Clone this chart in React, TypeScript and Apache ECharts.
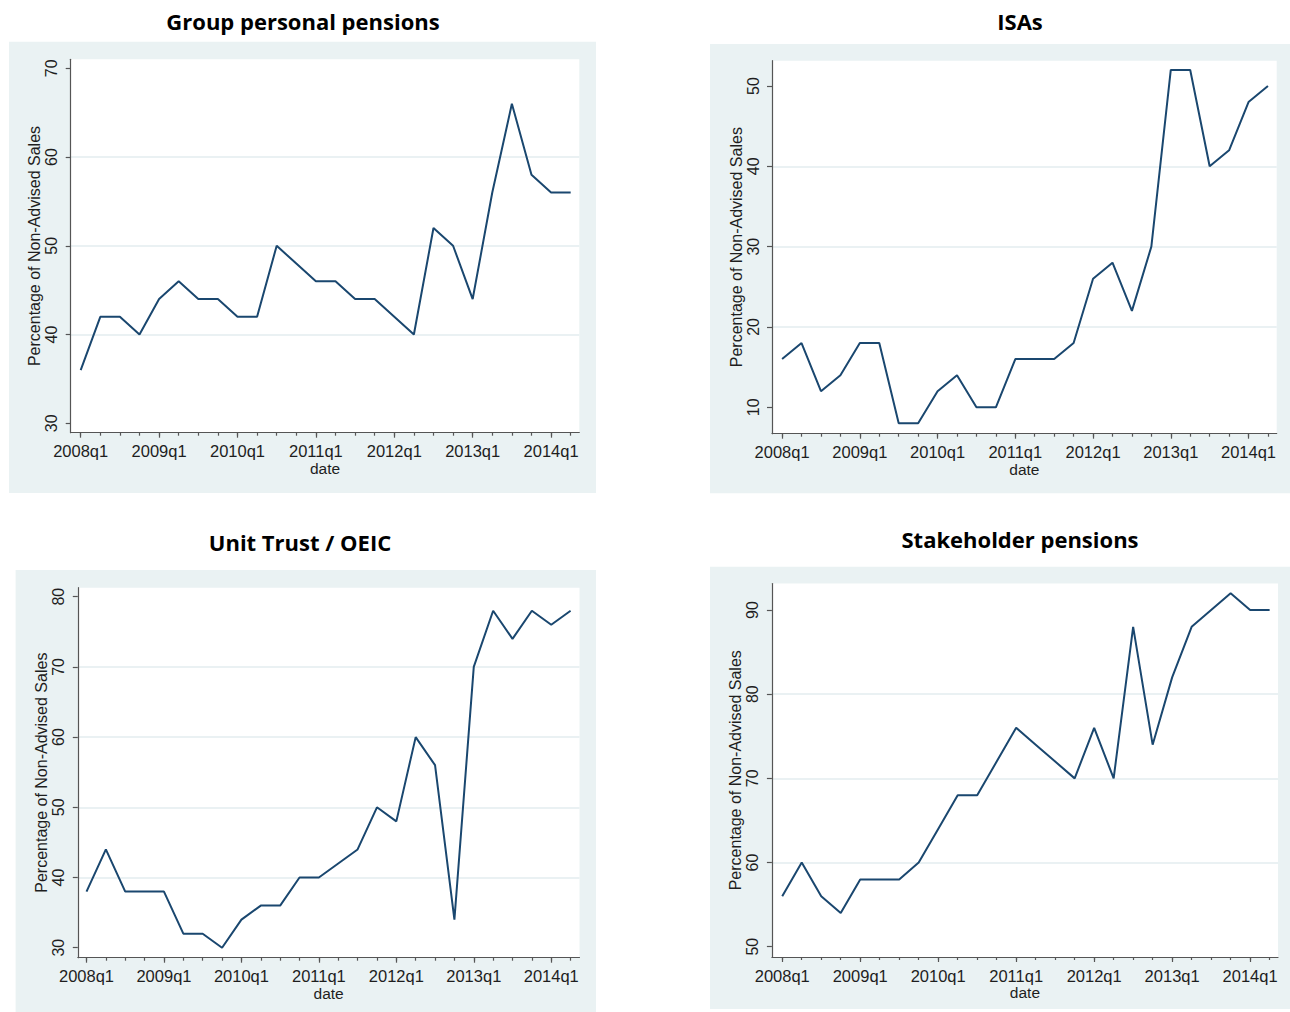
import React, { useEffect, useRef } from "react";
import * as echarts from "echarts";

// ---------- data ----------
const quarters = [
  "2008q1", "2008q2", "2008q3", "2008q4",
  "2009q1", "2009q2", "2009q3", "2009q4",
  "2010q1", "2010q2", "2010q3", "2010q4",
  "2011q1", "2011q2", "2011q3", "2011q4",
  "2012q1", "2012q2", "2012q3", "2012q4",
  "2013q1", "2013q2", "2013q3", "2013q4",
  "2014q1", "2014q2",
];

const groupPersonalPensions = [
  36, 42, 42, 40, 44, 46, 44, 44, 42, 42, 50, 48, 46, 46, 44, 44, 42, 40, 52, 50, 44, 56, 66, 58, 56, 56,
];
const isas = [
  16, 18, 12, 14, 18, 18, 8, 8, 12, 14, 10, 10, 16, 16, 16, 18, 26, 28, 22, 30, 52, 52, 40, 42, 48, 50,
];
const unitTrustOeic = [
  38, 44, 38, 38, 38, 32, 32, 30, 34, 36, 36, 40, 40, 42, 44, 50, 48, 60, 56, 34, 70, 78, 74, 78, 76, 78,
];
const stakeholderPensions = [
  56, 60, 56, 54, 58, 58, 58, 60, 64, 68, 68, 72, 76, 74, 72, 70, 76, 70, 88, 74, 82, 88, 90, 92, 90, 90,
];

const panelTitles = ["Group personal pensions", "ISAs", "Unit Trust / OEIC", "Stakeholder pensions"];
const yTicksGroup = [30, 40, 50, 60, 70];
const yTicksIsa = [10, 20, 30, 40, 50];
const yTicksUnit = [30, 40, 50, 60, 70, 80];
const yTicksStake = [50, 60, 70, 80, 90];
const yAxisTitle = "Percentage of Non-Advised Sales";
const xAxisTitle = "date";

// ---------- layout (page pixels) ----------
const panels = [
  {
    title: panelTitles[0], values: groupPersonalPensions, yTicks: yTicksGroup,
    bg: [9, 41.7, 596, 493], plot: [70.7, 59.3, 579.3, 432.7],
    yRange: [28.94, 71.01], xRange: [-0.51, 25.44], titleX: 303, titleY: 10,
  },
  {
    title: panelTitles[1], values: isas, yTicks: yTicksIsa,
    bg: [710, 44, 1290, 493.3], plot: [772, 60.7, 1276.7, 433.7],
    yRange: [6.71, 53.15], xRange: [-0.52, 25.45], titleX: 1020, titleY: 10,
  },
  {
    title: panelTitles[2], values: unitTrustOeic, yTicks: yTicksUnit,
    bg: [15.6, 570, 596, 1012], plot: [77.8, 587.7, 579.5, 957.7],
    yRange: [28.58, 81.28], xRange: [-0.45, 25.46], titleX: 300, titleY: 531,
  },
  {
    title: panelTitles[3], values: stakeholderPensions, yTicks: yTicksStake,
    bg: [710, 566.7, 1290, 1009], plot: [771.9, 583.5, 1278, 957],
    yRange: [48.78, 93.15], xRange: [-0.53, 25.43], titleX: 1020, titleY: 528,
  },
];

const PANEL_BG = "#eaf2f3";
const GRID_LINE = "#e3ecef";
const AXIS_COLOR = "#555555";
const LINE_COLOR = "#1a476f";
const LABEL_FONT = "'Liberation Sans', Arial, sans-serif";
const TITLE_FONT = "'Open Sans', Lato, sans-serif";

const allIdx = quarters.map((_, i) => i);
const yearIdx = quarters.map((q, i) => (q.endsWith("q1") ? i : -1)).filter((i) => i >= 0);

function buildOption(): any {
  const grid: any[] = [];
  const xAxis: any[] = [];
  const yAxis: any[] = [];
  const series: any[] = [];
  const title: any[] = [];
  const graphic: any[] = [];

  panels.forEach((p, k) => {
    graphic.push({
      type: "rect",
      z: -10,
      silent: true,
      shape: { x: p.bg[0], y: p.bg[1], width: p.bg[2] - p.bg[0], height: p.bg[3] - p.bg[1] },
      style: { fill: PANEL_BG },
    });
    title.push({
      text: p.title,
      left: p.titleX,
      top: p.titleY,
      textAlign: "center",
      padding: 0,
      textStyle: { fontFamily: TITLE_FONT, fontWeight: "bold", fontSize: 22, color: "#000" },
    });
    grid.push({
      left: p.plot[0],
      top: p.plot[1],
      width: p.plot[2] - p.plot[0],
      height: p.plot[3] - p.plot[1],
      show: true,
      backgroundColor: "#ffffff",
      borderWidth: 0,
      containLabel: false,
      outerBoundsMode: "none",
    });
    xAxis.push({
      type: "value",
      gridIndex: k,
      position: "bottom",
      min: p.xRange[0],
      max: p.xRange[1],
      axisLine: { show: true, onZero: false, lineStyle: { color: AXIS_COLOR, width: 1.2 } },
      axisTick: { show: true, length: 5, customValues: yearIdx, lineStyle: { color: AXIS_COLOR, width: 1.2 } },
      axisLabel: {
        customValues: yearIdx,
        formatter: (v: number) => quarters[Math.round(v)] ?? "",
        fontSize: 16.5,
        fontFamily: LABEL_FONT,
        color: "#1e1e1e",
        margin: 10,
      },
      splitLine: { show: false },
      name: xAxisTitle,
      nameLocation: "middle",
      nameGap: 27,
      nameTextStyle: { fontSize: 15.5, fontFamily: LABEL_FONT, color: "#1e1e1e" },
    });
    xAxis.push({
      type: "value",
      gridIndex: k,
      position: "bottom",
      min: p.xRange[0],
      max: p.xRange[1],
      axisLine: { show: false },
      axisTick: { show: true, length: 3, customValues: allIdx, lineStyle: { color: AXIS_COLOR, width: 1.2 } },
      axisLabel: { show: false },
      splitLine: { show: false },
    });
    yAxis.push({
      type: "value",
      gridIndex: k,
      position: "left",
      min: p.yRange[0],
      max: p.yRange[1],
      axisLine: { show: true, onZero: false, lineStyle: { color: AXIS_COLOR, width: 1.2 } },
      axisTick: { show: true, length: 5, customValues: p.yTicks, lineStyle: { color: AXIS_COLOR, width: 1.2 } },
      axisLabel: {
        customValues: p.yTicks,
        rotate: 90,
        margin: 11,
        fontSize: 16,
        fontFamily: LABEL_FONT,
        color: "#1e1e1e",
      },
      splitLine: {
        show: true,
        showMinLine: false,
        showMaxLine: false,
        lineStyle: { color: GRID_LINE, width: 1.6 },
      },
      name: yAxisTitle,
      nameLocation: "middle",
      nameRotate: 90,
      nameGap: 28,
      nameTextStyle: { fontSize: 16, fontFamily: LABEL_FONT, color: "#1e1e1e" },
    });
    series.push({
      type: "line",
      xAxisIndex: 2 * k,
      yAxisIndex: k,
      data: p.values.map((v, i) => [i, v]),
      symbol: "none",
      showSymbol: false,
      silent: true,
      lineStyle: { color: LINE_COLOR, width: 2 },
    });
  });

  return {
    animation: false,
    backgroundColor: "#ffffff",
    title,
    graphic,
    grid,
    xAxis,
    yAxis,
    series,
    tooltip: { show: false },
  };
}

export default function App() {
  const ref = useRef<HTMLDivElement | null>(null);
  useEffect(() => {
    if (!ref.current) return;
    const prevMargin = document.body.style.margin;
    document.body.style.margin = "0";
    const chart = echarts.init(ref.current, undefined, { renderer: "svg" });
    chart.setOption(buildOption());
    return () => {
      chart.dispose();
      document.body.style.margin = prevMargin;
    };
  }, []);
  return <div ref={ref} style={{ width: 1290, height: 1012 }} />;
}
